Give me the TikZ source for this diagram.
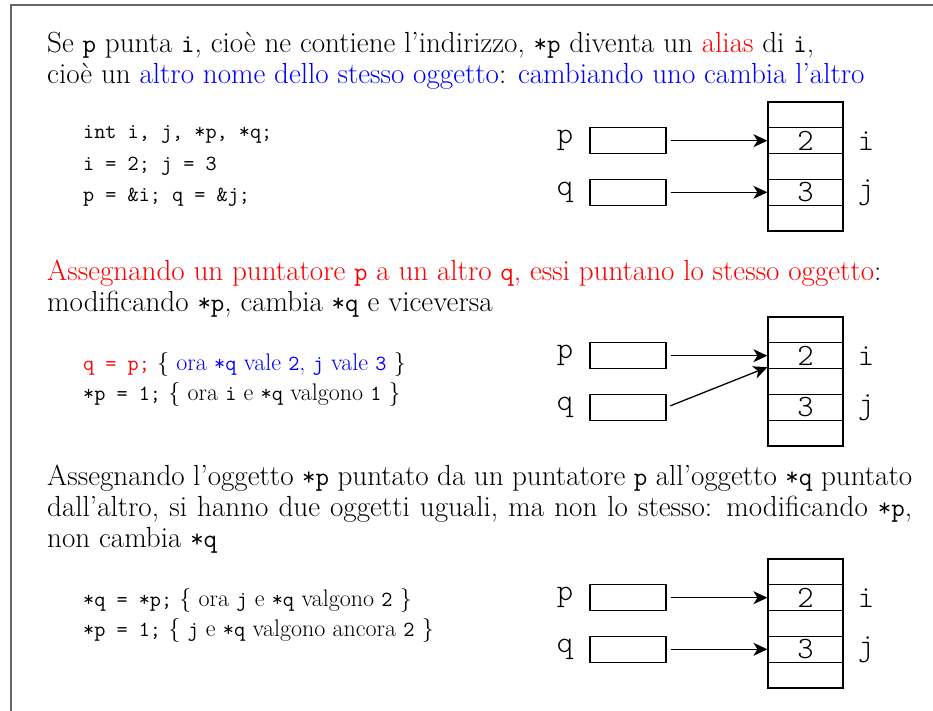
\documentclass[tikz,border=0pt]{standalone}
\usepackage{fontspec}
\setmonofont{Latin Modern Mono}[Scale=0.9]
\newfontfamily\diagfont{Latin Modern Mono Light}
\usetikzlibrary{arrows.meta}
\newcommand\mainsz{\fontsize{29.1}{31}\selectfont}
\newcommand\codesz{\fontsize{24}{31}\selectfont}
\tikzset{
  frame/.style={draw=black!60, line width=1.8pt},
  txt/.style={anchor=base west, inner sep=0pt, font=\mainsz},
  codeln/.style={anchor=base west, inner sep=0pt, font=\codesz},
  memcell/.style={draw, line width=1.2pt, minimum width=75pt, minimum height=25.8pt, inner sep=0pt, font=\diagfont\fontsize{31}{31}\selectfont},
  ptrbox/.style={draw, line width=1.2pt, minimum width=76pt, minimum height=26pt, inner sep=0pt},
  lbl/.style={inner sep=0pt, font=\diagfont\fontsize{31}{31}\selectfont},
  arr/.style={line width=1.3pt, -{Stealth[length=14pt,width=13pt,inset=4pt]}, shorten <=4pt}
}
\begin{document}
\begin{tikzpicture}[x=1pt,y=-1pt]
\useasboundingbox (0,0) rectangle (933,711);
\coordinate (fa) at (11,711);
\coordinate (fb) at (11,5);
\coordinate (fc) at (933,5);
\draw[frame] (fa) -- (fb) -- (fc);

% paragraph 1
\node[txt] (t1) at (47,53) {Se \texttt{p} punta \texttt{i}, cioè ne contiene l’indirizzo, \texttt{*p} diventa un \textcolor{red}{alias} di \texttt{i},};
\node[txt] (t2) at (47,84) {cioè un \textcolor{blue}{altro nome dello stesso oggetto}: \textcolor{blue}{cambiando uno cambia l’altro}};

\node[codeln] (c11) at (83,139) {\texttt{int i, j, *p, *q;}};
\node[codeln] (c12) at (83,171) {\texttt{i = 2; j = 3}};
\node[codeln] (c13) at (83,202) {\texttt{p = \&i; q = \&j;}};

% paragraph 2
\node[txt] (t3) at (47,280) {\textcolor{red}{Assegnando un puntatore \texttt{p} a un altro \texttt{q}, essi puntano lo stesso oggetto}:};
\node[txt] (t4) at (47,311) {modificando \texttt{*p}, cambia \texttt{*q} e viceversa};

\node[codeln] (c21) at (83,370) {\textcolor{red}{\texttt{q = p;}} \{ \textcolor{blue}{ora \texttt{*q} vale \texttt{2}, \texttt{j} vale \texttt{3}} \}};
\node[codeln] (c22) at (83,400) {\texttt{*p = 1;} \{ ora \texttt{i} e \texttt{*q} valgono \texttt{1} \}};

% paragraph 3
\node[txt] (t5) at (47,485) {\makebox[865pt][s]{Assegnando l’oggetto \texttt{*p} puntato da un puntatore \texttt{p} all’oggetto \texttt{*q} puntato}};
\node[txt] (t6) at (47,516) {\makebox[865pt][s]{dall’altro, si hanno due oggetti uguali, ma non lo stesso: modificando \texttt{*p},}};
\node[txt] (t7) at (47,547) {non cambia \texttt{*q}};

\node[codeln] (c31) at (83,606) {\texttt{*q = *p;} \{ ora \texttt{j} e \texttt{*q} valgono \texttt{2} \}};
\node[codeln] (c32) at (83,636) {\texttt{*p = 1;} \{ \texttt{j} e \texttt{*q} valgono ancora \texttt{2} \}};

% diagrams
\foreach \d/\T in {1/102, 2/317, 3/559} {
  \node[memcell] (d\d c1) at (805.5,\T+12.9) {};
  \node[memcell] (d\d c2) at (805.5,\T+38.7) {2};
  \node[memcell] (d\d c3) at (805.5,\T+64.5) {};
  \node[memcell] (d\d c4) at (805.5,\T+90.3) {3};
  \node[memcell] (d\d c5) at (805.5,\T+116.1) {};
  \node[ptrbox] (d\d p) at (628,\T+38.7) {};
  \node[ptrbox] (d\d q) at (628,\T+90.3) {};
  \node[lbl] (d\d pl) at (565,\T+38.7) {p};
  \node[lbl] (d\d ql) at (565,\T+90.3) {q};
  \node[lbl] (d\d il) at (866,\T+38.7) {i};
  \node[lbl] (d\d jl) at (866,\T+90.3) {j};
}
\draw[arr] (d1p.east) -- (d1c2.west);
\draw[arr] (d1q.east) -- (d1c4.west);
\draw[arr] (d2p.east) -- (d2c2.west);
\draw[arr] (d2q.east) -- ([yshift=2pt]d2c2.south west);
\draw[arr] (d3p.east) -- (d3c2.west);
\draw[arr] (d3q.east) -- (d3c4.west);
\end{tikzpicture}
\end{document}
